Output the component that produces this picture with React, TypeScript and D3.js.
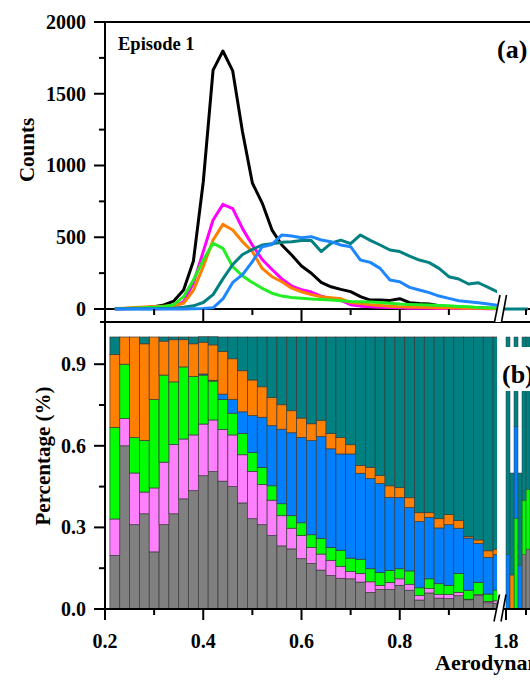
import React from 'react';
import * as d3 from 'd3';

// Aerodynamic diameter bins (µm), segment 1 and segment 2 (after axis break)
const sizes = [0.22,0.24,0.26,0.28,0.30,0.32,0.34,0.36,0.38,0.40,0.42,0.44,0.46,0.48,0.50,0.52,0.54,0.56,0.58,0.60,0.62,0.64,0.66,0.68,0.70,0.72,0.74,0.76,0.78,0.80,0.82,0.84,0.86,0.88,0.90,0.92,0.94,0.96,0.98,1.00];
const sizes2 = [1.81,1.83,1.85,1.87,1.89,1.91];

// (a) Counts per size bin
const countBlack = [2,3,5,8,15,28,55,132,335,885,1665,1798,1659,1233,878,738,550,446,376,300,249,185,155,137,121,86,62,62,60,72,44,38,35,23,16,12,10,8,6,5];
const countMagenta = [1,2,3,5,8,12,20,50,180,400,620,729,700,560,445,345,275,210,160,135,118,90,72,60,30,20,15,12,10,8,6,5,5,4,4,3,3,3,2,2];
const countOrange = [3,6,10,14,18,20,22,40,130,295,481,590,551,469,400,283,225,190,145,120,100,85,78,72,45,38,30,25,20,16,14,12,10,9,8,7,6,5,4,3];
const countGreen = [2,3,5,8,12,18,30,86,202,341,458,423,295,230,185,144,110,90,80,75,70,67,62,58,52,50,48,45,40,35,32,30,28,25,22,18,15,10,8,5];
const countTeal = [1,1,1,2,2,3,5,12,22,45,100,210,310,380,415,446,455,465,468,478,478,400,458,480,455,516,478,446,411,400,369,341,323,283,225,209,174,183,151,118];
const countBlue = [0,0,0,0,0,0,0,0,2,3,8,70,185,240,330,434,450,516,509,496,504,481,469,446,434,341,325,283,202,190,151,132,114,90,74,58,51,44,35,25];
const countTeal2 = [0,0,0,0,0,0];

// (b) Fractions per size bin
const fracGray = [0.197,0.60,0.31,0.35,0.21,0.31,0.35,0.405,0.435,0.49,0.505,0.47,0.45,0.39,0.332,0.31,0.27,0.232,0.221,0.185,0.168,0.143,0.123,0.113,0.111,0.099,0.061,0.072,0.072,0.087,0.069,0.033,0.059,0.04,0.038,0.049,0.034,0.049,0.023,0.02];
const fracPink = [0.134,0.10,0.19,0.08,0.235,0.23,0.255,0.22,0.205,0.19,0.19,0.19,0.19,0.177,0.174,0.148,0.13,0.111,0.076,0.085,0.058,0.059,0.056,0.044,0.027,0.032,0.039,0.015,0.026,0.024,0.022,0.016,0.016,0.013,0.015,0.012,0.002,0.004,0.005,0.01];
const fracGreen = [0.337,0.20,0.13,0.19,0.325,0.32,0.23,0.265,0.215,0.18,0.143,0.11,0.08,0.078,0.069,0.062,0.053,0.044,0.046,0.047,0.047,0.057,0.047,0.059,0.049,0.052,0.048,0.047,0.044,0.037,0.049,0.029,0.036,0.04,0.034,0.07,0.033,0.045,0.027,0.04];
const fracBlue = [0,0,0,0,0,0,0,0,0,0.004,0.003,0.02,0.05,0.08,0.136,0.185,0.221,0.274,0.305,0.314,0.346,0.375,0.363,0.354,0.383,0.316,0.332,0.327,0.268,0.262,0.233,0.244,0.226,0.205,0.223,0.166,0.192,0.143,0.135,0.13];
const fracOrange = [0.268,0.10,0.37,0.355,0.23,0.125,0.155,0.10,0.12,0.117,0.13,0.157,0.15,0.151,0.131,0.112,0.103,0.09,0.081,0.071,0.062,0.06,0.056,0.06,0.034,0.029,0.041,0.03,0.043,0.036,0.036,0.032,0.017,0.034,0.037,0.028,0.005,0.013,0.024,0.02];
const fracTeal = [0.064,0,0,0.025,0,0.015,0.01,0.01,0.025,0.02,0.03,0.053,0.08,0.124,0.158,0.183,0.223,0.249,0.271,0.298,0.319,0.306,0.355,0.37,0.396,0.472,0.479,0.509,0.547,0.554,0.591,0.646,0.646,0.668,0.653,0.675,0.734,0.746,0.786,0.78];

const fracGray2 = [0,0,0,0,0.2,0.22];
const fracPink2 = [0,0,0,0,0,0];
const fracGreen2 = [0,0,0.334,0,0.2,0.22];
const fracBlue2 = [0.2,0,0.336,0.16,0,0];
const fracOrange2 = [0,0.125,0,0,0,0];
const fracTeal2 = [0.8,0.375,0.33,0.34,0.6,0.56];

const yTicksTop = [0, 500, 1000, 1500, 2000];
const yMinorTop = [250, 750, 1250, 1750];
const yTicksBot = [0, 0.3, 0.6, 0.9];
const yMinorBot = [0.15, 0.45, 0.75];
const xMajor1 = [0.2, 0.4, 0.6, 0.8];
const xMinor1 = [0.3, 0.5, 0.7, 0.9];
const xMajor2 = [1.8];
const xMinor2 = [1.9];

const stackKeys = ['gray', 'pink', 'green', 'blue', 'orange', 'teal'];
const stackColors: Record<string, string> = {
  gray: '#808080', pink: '#ff80ff', green: '#00ff00', blue: '#0080ff', orange: '#ff8000', teal: '#008080',
};

const FONT = '"Liberation Serif", "Times New Roman", serif';

export default function App() {
  const x1 = d3.scaleLinear().domain([0.2, 1.0]).range([105, 498]);
  const x2 = d3.scaleLinear().domain([1.8, 2.0]).range([506, 546]);
  const yTop = d3.scaleLinear().domain([0, 2000]).range([309, 22]);
  const yBot = d3.scaleLinear().domain([0, 1]).range([609, 337]);
  const binW = 0.02;

  const table1 = sizes.map((s, i) => ({
    size: s, gray: fracGray[i], pink: fracPink[i], green: fracGreen[i],
    blue: fracBlue[i], orange: fracOrange[i], teal: fracTeal[i],
  }));
  const table2 = sizes2.map((s, i) => ({
    size: s, gray: fracGray2[i], pink: fracPink2[i], green: fracGreen2[i],
    blue: fracBlue2[i], orange: fracOrange2[i], teal: fracTeal2[i],
  }));
  const stack = d3.stack<any>().keys(stackKeys);
  const st1 = stack(table1);
  const st2 = stack(table2);

  const lineSeries = [
    { vals: countBlack, color: '#000000' },
    { vals: countMagenta, color: '#ff00ff' },
    { vals: countOrange, color: '#ff8000' },
    { vals: countGreen, color: '#22ee22' },
    { vals: countTeal, color: '#008080' },
    { vals: countBlue, color: '#1e86ff' },
  ];
  const line1 = (vals: number[]) =>
    d3.line<number>().x((_, i) => x1(sizes[i])).y((d) => yTop(d))(vals) || '';
  const line2 = (vals: number[]) =>
    d3.line<number>().x((_, i) => x2(sizes2[i])).y((d) => yTop(d))([vals[0], ...vals]
      .map((v) => v)) || '';
  const line2Path = d3.line<number>().x((_, i) => (i === 0 ? 503 : x2(sizes2[i - 1]))).y((d) => yTop(d))([countTeal2[0], ...countTeal2]) || '';

  const tickStyle = { stroke: '#000', strokeWidth: 2 };
  const labelStyle: React.CSSProperties = { fontFamily: FONT, fontWeight: 'bold', fontSize: 20 };

  const breakMark = (cx: number, cy: number, key: string) => (
    <g key={key}>
      <polygon points={`${cx - 6},${cy + 14} ${cx - 0.5},${cy - 13} ${cx + 6},${cy - 13} ${cx + 1},${cy + 14}`} fill="#fff" />
      <line x1={cx - 6} y1={cy + 14} x2={cx - 0.5} y2={cy - 13} stroke="#000" strokeWidth={1.6} />
      <line x1={cx + 1} y1={cy + 14} x2={cx + 6} y2={cy - 13} stroke="#000" strokeWidth={1.6} />
    </g>
  );

  return (
    <svg width={530} height={680} style={{ position: 'absolute', left: 0, top: 0, background: '#fff' }}>
      <defs>
        <clipPath id="seg1"><rect x={105} y={0} width={392} height={680} /></clipPath>
        <clipPath id="seg2"><rect x={503} y={0} width={40} height={680} /></clipPath>
      </defs>
      <rect x={0} y={0} width={530} height={680} fill="#fff" />

      {/* ---------- Panel (b) bars ---------- */}
      <g clipPath="url(#seg1)">
        {st1.map((layer) => layer.map((d, i) => (
          <rect key={layer.key + i}
            x={x1(sizes[i] - binW / 2)} width={x1(sizes[i] + binW / 2) - x1(sizes[i] - binW / 2)}
            y={yBot(d[1])} height={Math.max(0, yBot(d[0]) - yBot(d[1]))}
            fill={stackColors[layer.key]} stroke="#3a3a3a" strokeWidth={0.7} />
        )))}
      </g>
      <g clipPath="url(#seg2)">
        {st2.map((layer) => layer.map((d, i) => (
          <rect key={layer.key + i}
            x={x2(sizes2[i] - binW / 2)} width={x2(sizes2[i] + binW / 2) - x2(sizes2[i] - binW / 2)}
            y={yBot(d[1])} height={Math.max(0, yBot(d[0]) - yBot(d[1]))}
            fill={stackColors[layer.key]} stroke="#3a3a3a" strokeWidth={0.5} />
        )))}
      </g>

      {/* ---------- Panel (a) lines ---------- */}
      <line x1={105} y1={309} x2={530} y2={309} {...tickStyle} />
      <g clipPath="url(#seg1)">
        {lineSeries.map((s, i) => (
          <path key={i} d={line1(s.vals)} fill="none" stroke={s.color} strokeWidth={3} strokeLinejoin="round" />
        ))}
      </g>
      <path d={line2Path} fill="none" stroke="#008080" strokeWidth={3} />

      {/* ---------- Frames & axes ---------- */}
      <line x1={105} y1={22} x2={530} y2={22} {...tickStyle} />
      <line x1={105} y1={21} x2={105} y2={610} {...tickStyle} />
      <line x1={100} y1={322} x2={530} y2={322} {...tickStyle} />
      <line x1={105} y1={609} x2={530} y2={609} {...tickStyle} />

      {/* top y ticks */}
      {yTicksTop.map((t) => (
        <g key={'yt' + t}>
          <line x1={94} x2={105} y1={yTop(t)} y2={yTop(t)} {...tickStyle} />
          <text x={86} y={yTop(t)} dy="0.34em" textAnchor="end" style={labelStyle}>{t}</text>
        </g>
      ))}
      {yMinorTop.map((t) => (
        <line key={'ym' + t} x1={99} x2={105} y1={yTop(t)} y2={yTop(t)} {...tickStyle} />
      ))}
      {/* bottom y ticks */}
      {yTicksBot.map((t) => (
        <g key={'yb' + t}>
          <line x1={94} x2={105} y1={yBot(t)} y2={yBot(t)} {...tickStyle} />
          <text x={86} y={yBot(t)} dy="0.34em" textAnchor="end" style={labelStyle}>{t.toFixed(1)}</text>
        </g>
      ))}
      {yMinorBot.map((t) => (
        <line key={'ybm' + t} x1={99} x2={105} y1={yBot(t)} y2={yBot(t)} {...tickStyle} />
      ))}

      {/* top x ticks (downward) */}
      {xMajor1.filter((t) => t > 0.2).map((t) => (
        <line key={'xt' + t} x1={x1(t)} x2={x1(t)} y1={309} y2={322} {...tickStyle} />
      ))}
      {xMinor1.map((t) => (
        <line key={'xtm' + t} x1={x1(t)} x2={x1(t)} y1={309} y2={315} {...tickStyle} />
      ))}
      {xMinor2.map((t) => (
        <line key={'xtm2' + t} x1={x2(t)} x2={x2(t)} y1={309} y2={315} {...tickStyle} />
      ))}

      {/* bottom x ticks */}
      {xMajor1.map((t) => (
        <g key={'xb' + t}>
          <line x1={x1(t)} x2={x1(t)} y1={609} y2={620} {...tickStyle} />
          <text x={x1(t)} y={648} textAnchor="middle" style={labelStyle}>{t.toFixed(1)}</text>
        </g>
      ))}
      {xMinor1.map((t) => (
        <line key={'xbm' + t} x1={x1(t)} x2={x1(t)} y1={609} y2={615} {...tickStyle} />
      ))}
      {xMajor2.map((t) => (
        <g key={'xb2' + t}>
          <line x1={x2(t)} x2={x2(t)} y1={609} y2={620} {...tickStyle} />
          <text x={x2(t)} y={648} textAnchor="middle" style={labelStyle}>{t.toFixed(1)}</text>
        </g>
      ))}
      {xMinor2.map((t) => (
        <line key={'xbm2' + t} x1={x2(t)} x2={x2(t)} y1={609} y2={615} {...tickStyle} />
      ))}

      {breakMark(500.5, 308, 'b1')}
      {breakMark(500, 607.5, 'b2')}

      {/* labels */}
      <text transform="translate(34,150) rotate(-90)" textAnchor="middle"
        style={{ fontFamily: FONT, fontWeight: 'bold', fontSize: 21 }}>Counts</text>
      <text transform="translate(50,456) rotate(-90)" textAnchor="middle"
        style={{ fontFamily: FONT, fontWeight: 'bold', fontSize: 21 }}>Percentage (%)</text>
      <text x={435} y={670} style={{ fontFamily: FONT, fontWeight: 'bold', fontSize: 22 }}>Aerodynamic Diameter (μm)</text>

      <text x={118} y={50} style={{ fontFamily: FONT, fontWeight: 'bold', fontSize: 18.5 }}>Episode 1</text>
      <text x={497} y={58} style={{ fontFamily: FONT, fontWeight: 'bold', fontSize: 26 }}>(a)</text>
      <rect x={500} y={347} width={40} height={44} fill="#fff" />
      <text x={502} y={383} style={{ fontFamily: FONT, fontWeight: 'bold', fontSize: 26 }}>(b)</text>
    </svg>
  );
}
